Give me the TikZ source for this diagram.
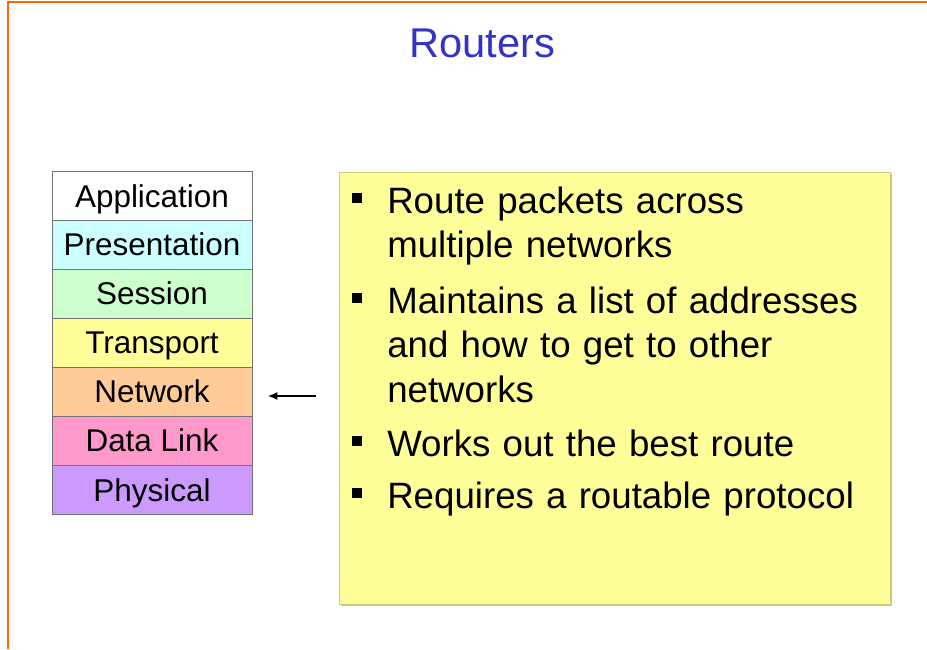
\documentclass[tikz,border=0pt]{standalone}
\usepackage{fontspec}
\setmainfont{Liberation Sans}
\usetikzlibrary{positioning,arrows.meta}

\definecolor{titleblue}{HTML}{3333CC}
\definecolor{frameorange}{HTML}{FF6600}
\definecolor{notefill}{HTML}{FFFF99}
\definecolor{noteline}{HTML}{CDCD7A}
\definecolor{noteshadow}{HTML}{C4C48A}
\definecolor{presfill}{HTML}{CCFFFF}
\definecolor{sessfill}{HTML}{CCFFCC}
\definecolor{tranfill}{HTML}{FFFF99}
\definecolor{netfill}{HTML}{FFCC99}
\definecolor{linkfill}{HTML}{FF99CC}
\definecolor{physfill}{HTML}{CC99FF}

\newcommand{\sqbullet}{\llap{\rule[7.5pt]{7.5pt}{7.5pt}\hspace{18.75pt}}}

\begin{document}
\begin{tikzpicture}[x=0.75pt,y=-0.75pt]
	% Set styles
	\tikzset{layer/.style={draw=black!55, rectangle, minimum width=150pt, minimum height=36.75pt, inner sep=0pt, text height=17pt, text depth=0.5pt, font=\fontsize{23.6}{26}\selectfont}}
	\tikzset{item/.style={anchor=base west, inner sep=0pt, text width=370pt, align=left, font=\fontsize{27.5}{33.4}\selectfont}}
	
	% Page and frame
	\fill[white] (0,0) rectangle (927,649);
	\useasboundingbox (0,0) rectangle (927,649);
	\draw[frameorange, line width=1.5pt] (8,649) -- (8,2) -- (927,2);
	
	% Title
	\node[text=titleblue, font=\fontsize{31.2}{36}\selectfont] (title) at (482,43) {Routers};
	
	% The seven layers
	\node [layer, fill=white] (app) at (152,196) {Application};
	\node [layer, fill=presfill] (pres) at (152,244.5) {Presentation};
	\node [layer, fill=sessfill] (sess) at (152,293.5) {Session};
	\node [layer, fill=tranfill] (tran) at (152,342.5) {Transport};
	\node [layer, fill=netfill] (net) at (152,391.5) {Network};
	\node [layer, fill=linkfill] (link) at (152,440.5) {Data Link};
	\node [layer, fill=physfill] (phys) at (152,490) {Physical};
	
	% Note box
	\fill[noteshadow] (341,174) rectangle (891.5,605.5);
	\node [draw=noteline, fill=notefill, rectangle, minimum width=413.25pt, minimum height=324pt, inner sep=0pt] (note) at (614.5,388) {};
	
	% Bullet points
	\node [item] (route) at (387,213) {\sqbullet Route packets across\\multiple networks};
	\node [item] (list) at (387,313) {\sqbullet Maintains a list of addresses\\and how to get to other\\networks};
	\node [item] (best) at (387,456) {\sqbullet Works out the best route};
	\node [item] (proto) at (387,508) {\sqbullet Requires a routable protocol};
	
	% Arrow to the network layer
	\coordinate (arrowtail) at (316,396);
	\coordinate (arrowhead) at (268,396);
	\draw[-{Latex[length=7pt,width=6pt]}, line width=0.9pt] (arrowtail) -- (arrowhead);
	
\end{tikzpicture}
\end{document}
